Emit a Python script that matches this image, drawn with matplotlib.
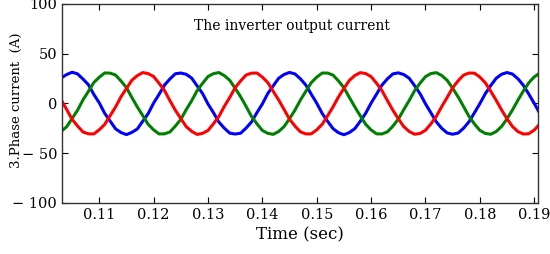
import numpy as np
import matplotlib.pyplot as plt

# time samples (1 ms step)
t0 = 0.103
dt = 0.001

ia = [25.6, 29.1, 31.4, 29.8, 24.6, 18.9, 9.1, 0.6, -9.9, -17.7, -25.5, -29.2, -31.3, -29.0, -25.6, -17.8, -10.1, 0.5, 9.2, 18.6,
      24.7, 29.9, 30.6, 29.3, 25.5, 17.7, 10.0, -0.5, -9.2, -18.7, -24.8, -29.8, -30.7, -29.9, -24.7, -18.6, -9.2, -0.4, 10.1, 17.8,
      25.4, 29.2, 31.2, 29.7, 24.8, 18.5, 9.3, 0.3, -10.0, -17.9, -25.3, -29.4, -31.4, -29.2, -25.3, -17.9, -9.8, 0.4, 9.4, 18.5,
      24.8, 29.7, 30.8, 29.1, 25.4, 17.9, 9.9, -0.3, -9.4, -18.5, -25.0, -29.6, -30.9, -29.7, -24.9, -18.4, -9.4, -0.2, 9.8, 18.0,
      25.3, 29.4, 31.1, 29.6, 24.9, 18.3, 9.5, 0.2, -9.7]

ib = [-28.0, -23.4, -15.1, -6.8, 3.6, 12.2, 21.1, 26.4, 30.7, 30.5, 28.6, 22.6, 15.9, 6.0, -3.5, -12.2, -21.0, -26.5, -30.6, -30.5,
      -28.6, -22.7, -15.9, -6.1, 2.8, 13.0, 20.3, 27.1, 30.0, 31.1, 28.0, 23.3, 15.2, 6.8, -2.9, -13.0, -20.4, -27.1, -30.0, -31.0,
      -28.1, -23.2, -15.2, -6.6, 3.5, 12.3, 21.0, 26.5, 30.6, 30.6, 28.5, 22.7, 15.8, 6.1, -3.4, -12.3, -20.9, -26.6, -30.5, -30.6,
      -28.5, -22.8, -15.8, -6.2, 2.9, 12.9, 20.4, 27.0, 30.1, 31.0, 28.1, 23.2, 15.3, 6.7, -3.0, -12.9, -20.5, -27.0, -30.1, -30.9,
      -28.2, -23.1, -15.4, -6.5, 3.3, 12.5, 20.8, 26.7, 30.4]

ic = [3.6, -6.0, -15.9, -22.6, -28.6, -30.5, -30.6, -26.4, -21.0, -12.2, -3.5, 6.8, 15.1, 23.4, 28.0, 31.1, 30.0, 27.1, 20.3, 13.0,
      2.8, -6.8, -15.2, -23.3, -28.0, -31.1, -30.0, -27.1, -20.4, -13.0, -2.9, 6.1, 15.9, 22.7, 28.6, 30.5, 30.6, 26.5, 21.0, 12.2,
      3.5, -6.1, -15.8, -22.7, -28.5, -30.6, -30.5, -26.5, -20.9, -12.3, -3.4, 6.6, 15.2, 23.2, 28.1, 31.0, 30.1, 27.0, 20.4, 12.9,
      2.9, -6.7, -15.3, -23.2, -28.1, -30.9, -30.1, -26.9, -20.5, -12.9, -3.0, 6.2, 15.8, 22.8, 28.5, 30.6, 30.5, 26.6, 20.9, 12.3,
      3.3, -6.5, -15.4, -23.1, -28.2, -30.7, -30.4, -26.7, -20.8]

xticks = [0.11, 0.12, 0.13, 0.14, 0.15, 0.16, 0.17, 0.18, 0.19]
yticks = [-100, -50, 0, 50, 100]
ylabels = ["\u2212 100", "\u2212 50", "0", "50", "100"]

t = t0 + dt * np.arange(len(ia))

plt.rcParams['font.family'] = 'DejaVu Serif'

fig = plt.figure(figsize=(5.5, 2.54), dpi=100)
ax = fig.add_axes([0.1127, 0.2008, 0.8655, 0.7835])

for y, c in [(ia, '#0000ff'), (ib, '#008000'), (ic, '#ff0000')]:
    ax.plot(t, y, color=c, lw=2.2, solid_joinstyle='round')

ax.set_xlim(0.10314, 0.1907)
ax.set_ylim(-100, 100)
ax.set_xticks(xticks)
ax.set_xticklabels([f"{v:.2f}" for v in xticks])
ax.set_yticks(yticks)
ax.set_yticklabels(ylabels)
ax.tick_params(direction='in', top=True, right=True, length=4, labelsize=10.5, width=0.8)
for s in ax.spines.values():
    s.set_linewidth(1.0)
    s.set_color('#333333')

ax.text(0.483, 0.89, "The inverter output current", transform=ax.transAxes,
        ha='center', va='center', fontsize=10)
ax.set_xlabel("Time (sec)", fontsize=12, labelpad=3)
fig.text(16 / 550, 1 - 100 / 254, "3.Phase current  (A)", rotation=90,
         ha='center', va='center', fontsize=9.5)

fig.savefig("out.png", dpi=100)
